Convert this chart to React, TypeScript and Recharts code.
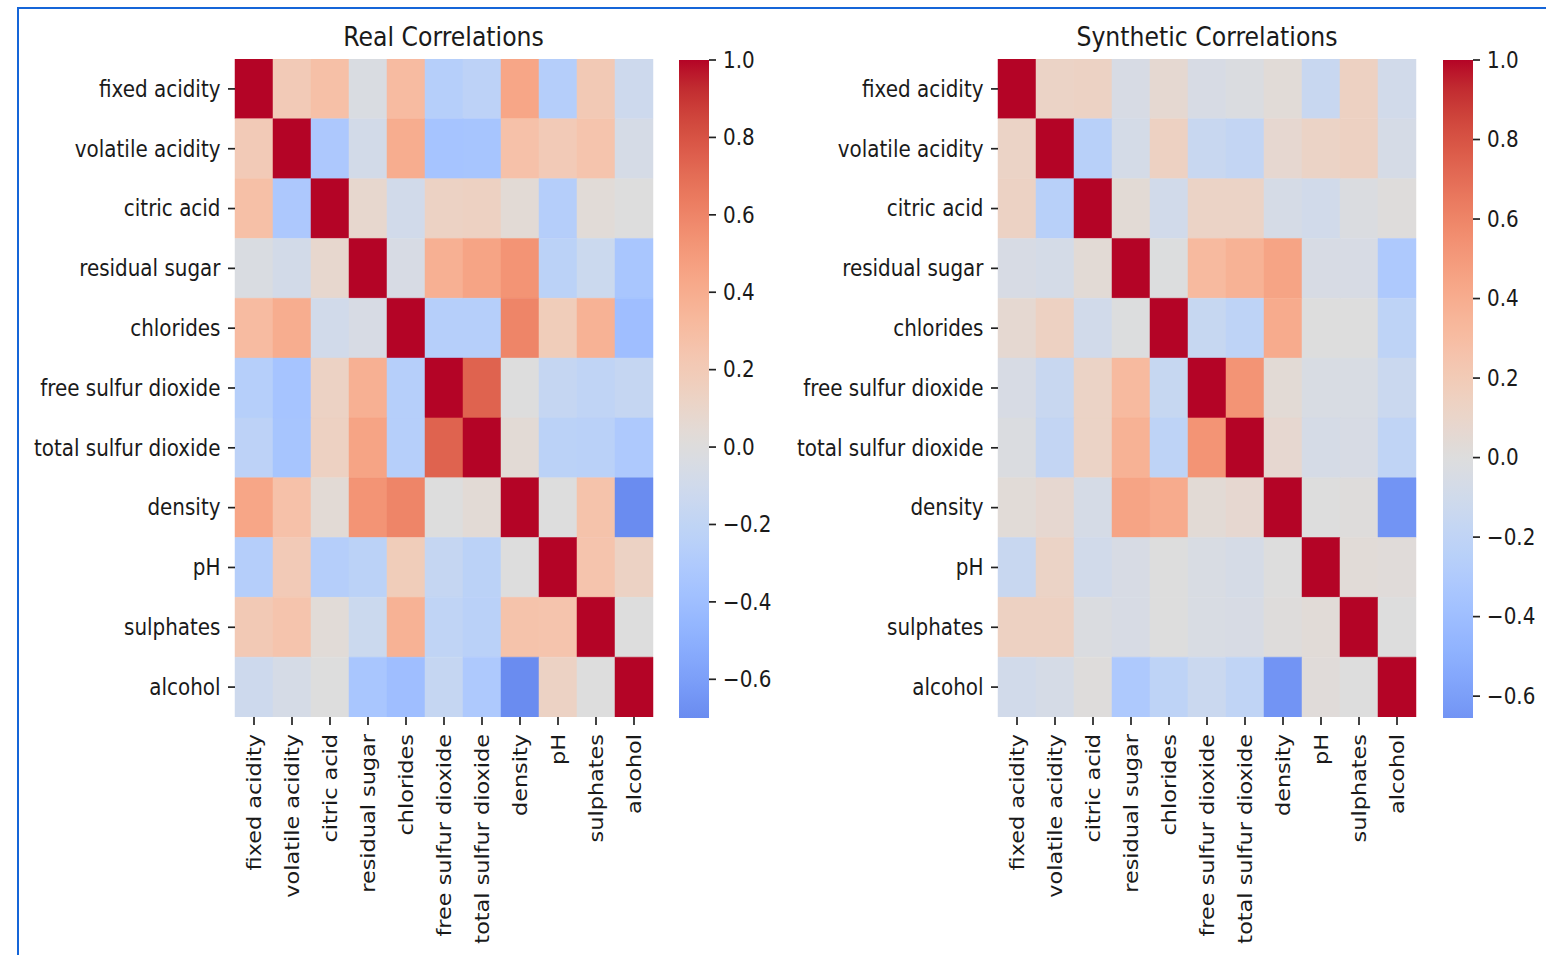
import React from "react";
import { BarChart, Bar, XAxis, YAxis, Cell } from "recharts";

const features = [
  "fixed acidity",
  "volatile acidity",
  "citric acid",
  "residual sugar",
  "chlorides",
  "free sulfur dioxide",
  "total sulfur dioxide",
  "density",
  "pH",
  "sulphates",
  "alcohol",
];

const realCorr: number[][] = [
  [1, 0.2, 0.28, -0.03, 0.31, -0.26, -0.22, 0.44, -0.27, 0.21, -0.12],
  [0.2, 1, -0.32, -0.08, 0.4, -0.36, -0.35, 0.27, 0.2, 0.25, -0.06],
  [0.28, -0.32, 1, 0.08, -0.09, 0.13, 0.14, 0.04, -0.27, 0.03, 0.0],
  [-0.03, -0.08, 0.08, 1, -0.05, 0.38, 0.45, 0.53, -0.23, -0.13, -0.34],
  [0.31, 0.4, -0.09, -0.05, 1, -0.26, -0.26, 0.6, 0.18, 0.37, -0.4],
  [-0.26, -0.36, 0.13, 0.38, -0.26, 1, 0.74, 0.0, -0.17, -0.2, -0.17],
  [-0.22, -0.35, 0.14, 0.45, -0.26, 0.74, 1, 0.04, -0.23, -0.24, -0.31],
  [0.44, 0.27, 0.04, 0.53, 0.6, 0.0, 0.04, 1, 0.0, 0.26, -0.7],
  [-0.27, 0.2, -0.27, -0.23, 0.18, -0.17, -0.23, 0.0, 1, 0.25, 0.13],
  [0.21, 0.25, 0.03, -0.13, 0.37, -0.2, -0.24, 0.26, 0.25, 1, 0.0],
  [-0.12, -0.06, 0.0, -0.34, -0.4, -0.17, -0.31, -0.7, 0.13, 0.0, 1],
];

const synthCorr: number[][] = [
  [1, 0.12, 0.13, -0.05, 0.06, -0.05, -0.02, 0.03, -0.15, 0.14, -0.09],
  [0.12, 1, -0.25, -0.07, 0.14, -0.15, -0.18, 0.07, 0.12, 0.14, -0.06],
  [0.13, -0.25, 1, 0.04, -0.09, 0.12, 0.12, -0.06, -0.09, -0.02, 0.01],
  [-0.05, -0.07, 0.04, 1, -0.01, 0.32, 0.37, 0.45, -0.05, -0.05, -0.31],
  [0.06, 0.14, -0.09, -0.01, 1, -0.16, -0.21, 0.41, 0.0, 0.0, -0.21],
  [-0.05, -0.15, 0.12, 0.32, -0.16, 1, 0.53, 0.04, -0.04, -0.04, -0.14],
  [-0.02, -0.18, 0.12, 0.37, -0.21, 0.53, 1, 0.07, -0.06, -0.05, -0.2],
  [0.03, 0.07, -0.06, 0.45, 0.41, 0.04, 0.07, 1, 0.0, 0.01, -0.655],
  [-0.15, 0.12, -0.09, -0.05, 0.0, -0.04, -0.06, 0.0, 1, 0.03, 0.02],
  [0.14, 0.14, -0.02, -0.05, 0.0, -0.04, -0.05, 0.01, 0.03, 1, 0.0],
  [-0.09, -0.06, 0.01, -0.31, -0.21, -0.14, -0.2, -0.655, 0.02, 0.0, 1],
];

const colorbarTicks = [-0.6, -0.4, -0.2, 0, 0.2, 0.4, 0.6, 0.8, 1.0];
const panelTitles = ["Real Correlations", "Synthetic Correlations"];

// matplotlib "coolwarm" (Moreland diverging map) control points
const COOLWARM: number[][] = [
  [59, 76, 192], [68, 90, 204], [77, 104, 215], [87, 117, 225], [98, 130, 234],
  [108, 142, 241], [119, 154, 247], [130, 165, 251], [141, 176, 254], [152, 185, 255],
  [163, 194, 255], [174, 201, 253], [184, 208, 249], [194, 213, 244], [204, 217, 238],
  [213, 219, 230], [221, 221, 221], [229, 216, 209], [236, 211, 197], [241, 204, 185],
  [245, 196, 173], [247, 187, 160], [247, 177, 148], [247, 166, 135], [244, 154, 123],
  [241, 141, 111], [236, 127, 99], [229, 112, 88], [222, 96, 77], [213, 80, 66],
  [203, 62, 56], [192, 40, 47], [180, 4, 38],
];

function coolwarm(t: number): string {
  const c = Math.min(1, Math.max(0, t)) * (COOLWARM.length - 1);
  const i = Math.min(COOLWARM.length - 2, Math.floor(c));
  const f = c - i;
  const a = COOLWARM[i];
  const b = COOLWARM[i + 1];
  const ch = (k: number) => Math.round(a[k] + (b[k] - a[k]) * f);
  return `rgb(${ch(0)},${ch(1)},${ch(2)})`;
}
// seaborn heatmap with center=0: symmetric range of 1 around 0
const corrColor = (v: number) => coolwarm((v + 1) / 2);

const FONT = "'DejaVu Sans', 'Liberation Sans', sans-serif";
const SX = 0.89;
const TICK_FS = 22.4;
const TEXT_COLOR = "#1a1a1a";
const TICK_STROKE = { stroke: "#222", strokeWidth: 1.7 };

function YTick(props: any) {
  const { x, y, payload } = props;
  const label = features[Math.floor(payload.value)];
  return (
    <g transform={`translate(${x - 7.5},${y}) scale(${SX},1)`}>
      <text x={0} y={0} dy="0.35em" textAnchor="end" fontSize={TICK_FS} fontFamily={FONT} fill={TEXT_COLOR}>
        {label}
      </text>
    </g>
  );
}

function XTick(props: any) {
  const { x, y, payload } = props;
  return (
    <g transform={`translate(${x},${y + 9}) scale(${SX},1) rotate(-90)`}>
      <text x={0} y={0} dy="0.35em" textAnchor="end" fontSize={TICK_FS} fontFamily={FONT} fill={TEXT_COLOR}>
        {payload.value}
      </text>
    </g>
  );
}

function CbarTick(props: any) {
  const { x, y, payload } = props;
  const v = payload.value as number;
  const txt = (v < 0 ? "\u2212" : "") + Math.abs(v).toFixed(1);
  return (
    <g transform={`translate(${x + 7},${y}) scale(${SX},1)`}>
      <text x={0} y={0} dy="0.35em" textAnchor="start" fontSize={TICK_FS} fontFamily={FONT} fill={TEXT_COLOR}>
        {txt}
      </text>
    </g>
  );
}

function Heatmap({ matrix, left, yAxisWidth }: { matrix: number[][]; left: number; yAxisWidth: number }) {
  const data = features.map((f) => {
    const row: Record<string, any> = { name: f };
    features.forEach((_, i) => {
      row[`r${i}`] = 1;
    });
    return row;
  });
  const rowTicks = features.map((_, i) => i + 0.5);
  return (
    <div style={{ position: "absolute", left, top: 0 }}>
      <BarChart
        width={yAxisWidth + 418 + 7}
        height={955}
        data={data}
        margin={{ top: 59, right: 7, bottom: 0, left: 0 }}
        barCategoryGap={0}
        barGap={0}
      >
        <XAxis
          dataKey="name"
          type="category"
          height={238}
          interval={0}
          tickSize={8}
          tickMargin={0}
          axisLine={false}
          tickLine={TICK_STROKE}
          tick={(p: any) => <XTick {...p} />}
        />
        <YAxis
          type="number"
          domain={[0, 11]}
          allowDataOverflow
          reversed
          ticks={rowTicks}
          interval={0}
          width={yAxisWidth}
          tickSize={7}
          tickMargin={0}
          axisLine={false}
          tickLine={TICK_STROKE}
          tick={(p: any) => <YTick {...p} />}
        />
        {features.map((_, i) => (
          <Bar key={i} dataKey={`r${i}`} stackId="cells" isAnimationActive={false}>
            {features.map((__, j) => {
              const c = corrColor(matrix[i][j]);
              return <Cell key={j} fill={c} stroke={c} strokeWidth={0.5} />;
            })}
          </Bar>
        ))}
      </BarChart>
    </div>
  );
}

function Colorbar({ matrix, left, id }: { matrix: number[][]; left: number; id: string }) {
  const vmin = Math.min(...matrix.map((r) => Math.min(...r)));
  const data = [{ name: "cbar", span: [vmin, 1] }];
  const nStops = 48;
  const stops = [];
  for (let k = 0; k <= nStops; k++) {
    const off = k / nStops;
    const v = 1 - off * (1 - vmin);
    stops.push(<stop key={k} offset={off} stopColor={corrColor(v)} />);
  }
  return (
    <div style={{ position: "absolute", left, top: 0 }}>
      <BarChart
        width={132}
        height={955}
        data={data}
        margin={{ top: 60, right: 0, bottom: 237, left: 29 }}
        barCategoryGap={0}
        barGap={0}
      >
        <defs>
          <linearGradient id={id} x1="0" y1="0" x2="0" y2="1">
            {stops}
          </linearGradient>
        </defs>
        <XAxis dataKey="name" hide />
        <YAxis
          orientation="right"
          type="number"
          domain={[vmin, 1]}
          allowDataOverflow
          ticks={colorbarTicks}
          interval={0}
          width={73}
          tickSize={7}
          tickMargin={0}
          axisLine={false}
          tickLine={TICK_STROKE}
          tick={(p: any) => <CbarTick {...p} />}
        />
        <Bar dataKey="span" fill={`url(#${id})`} isAnimationActive={false} />
      </BarChart>
    </div>
  );
}

export default function App() {
  return (
    <div
      style={{
        position: "absolute",
        left: 0,
        top: 0,
        width: 1546,
        height: 955,
        overflow: "hidden",
        background: "#fff",
      }}
    >
      <div
        style={{
          position: "absolute",
          left: 17,
          top: 7,
          width: 1600,
          height: 1000,
          borderLeft: "2px solid #1565d8",
          borderTop: "2px solid #1565d8",
        }}
      />
      <Heatmap matrix={realCorr} left={0} yAxisWidth={235} />
      <Colorbar matrix={realCorr} left={650} id="cbarReal" />
      <Heatmap matrix={synthCorr} left={760} yAxisWidth={238} />
      <Colorbar matrix={synthCorr} left={1414} id="cbarSynth" />
      <svg
        width={1546}
        height={80}
        style={{ position: "absolute", left: 0, top: 0, pointerEvents: "none" }}
      >
        {panelTitles.map((t, k) => (
          <g key={t} transform={`translate(${k === 0 ? 443.5 : 1207},46) scale(${SX},1)`}>
            <text x={0} y={0} textAnchor="middle" fontSize={26.5} fontFamily={FONT} fill={TEXT_COLOR}>
              {t}
            </text>
          </g>
        ))}
      </svg>
    </div>
  );
}
